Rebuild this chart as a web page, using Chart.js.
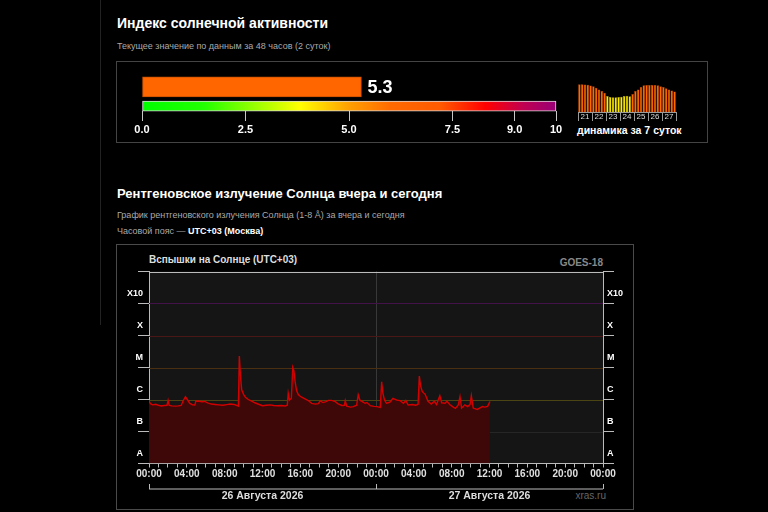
<!DOCTYPE html>
<html><head><meta charset="utf-8">
<script src="https://cdn.jsdelivr.net/npm/chart.js@4.4.1/dist/chart.umd.min.js"></script>
<style>
html,body{margin:0;padding:0;background:#000;width:768px;height:512px;overflow:hidden;font-family:'Liberation Sans',Arial,sans-serif;}
.a{position:absolute;white-space:nowrap;line-height:1;}
canvas{position:absolute;}
</style></head><body>
<div style="position:absolute;left:100px;top:0;width:1px;height:325px;background:#222"></div>
<div class="a" style="left:117px;top:16px;font-size:14px;font-weight:bold;color:#fff">Индекс солнечной активности</div>
<div class="a" style="left:117px;top:41.5px;font-size:9px;color:#aaa">Текущее значение по данным за 48 часов (2 суток)</div>
<div style="position:absolute;left:116px;top:61px;width:592px;height:82px;border:1px solid #444;box-sizing:border-box"></div>
<div class="a" style="left:577px;top:125px;font-size:10.5px;font-weight:bold;color:#fff">динамика за 7 суток</div>

<div class="a" style="left:117px;top:186.5px;font-size:13px;font-weight:bold;color:#fff">Рентгеновское излучение Солнца вчера и сегодня</div>
<div class="a" style="left:117px;top:210.5px;font-size:9px;color:#aaa">График рентгеновского излучения Солнца (1-8 Å) за вчера и сегодня</div>
<div class="a" style="left:117px;top:226.5px;font-size:9px;color:#aaa">Часовой пояс — <b style="color:#fff">UTC+03 (Москва)</b></div>
<div style="position:absolute;left:116px;top:244px;width:518px;height:266px;border:1px solid #4a4a4a;box-sizing:border-box"></div>
<div class="a" style="left:149px;top:254.5px;font-size:10px;font-weight:bold;color:#ddd">Вспышки на Солнце (UTC+03)</div>
<div class="a" style="right:165px;top:257.5px;font-size:10px;font-weight:bold;color:#888">GOES-18</div>
<div class="a" style="right:162px;top:491px;font-size:10px;color:#666">xras.ru</div>

<canvas id="c1" width="470" height="78" style="left:120px;top:62px;width:470px;height:78px"></canvas>
<canvas id="c2" width="110" height="46" style="left:572px;top:78px;width:110px;height:46px"></canvas>
<canvas id="c3" width="530" height="269" style="left:110px;top:243px;width:530px;height:269px"></canvas>
<script>
// ---- data ----
const indexValue = 5.3;
const scaleMin = 0;
const scaleMax = 10;
const scaleTicks = [0, 2.5, 5, 7.5, 9, 10];
const weekDays = ['21','22','23','24','25','26','27'];
const weekIndex = [
  6.8, 6.8, 6.75, 6.7, 6.55,
  6.45, 6.2, 5.9, 5.6, 5.3,
  4.75, 4.6, 4.55, 4.55, 4.6,
  4.65, 4.75, 4.8, 4.7, 5.1,
  5.6, 5.9, 6.3, 6.6, 6.65,
  6.65, 6.65, 6.65, 6.6, 6.45,
  6.3, 6.1, 5.9, 5.7, 5.55
];
const hours = [
  0.00,0.15,0.40,0.70,1.00,1.30,1.60,1.90,2.02,2.12,2.40,2.80,3.10,3.40,3.60,3.85,4.05,4.30,4.60,4.85,
  4.95,5.30,5.60,5.90,6.20,6.60,7.00,7.40,7.80,8.20,8.60,9.00,9.30,9.45,9.55,9.68,9.80,10.00,10.20,10.50,
  10.80,11.20,11.60,12.00,12.40,12.80,13.20,13.60,14.00,14.40,14.62,14.72,14.85,15.05,15.20,15.32,15.45,15.60,15.80,16.10,
  16.50,16.90,17.20,17.60,17.90,18.10,18.40,18.70,18.95,19.30,19.70,20.00,20.40,20.65,20.75,20.90,21.30,21.60,21.95,22.12,
  22.30,22.55,22.85,23.05,23.40,23.80,24.10,24.45,24.60,24.72,24.90,25.10,25.45,25.80,26.20,26.55,26.90,27.15,27.40,27.85,
  28.20,28.45,28.58,28.72,28.90,29.20,29.50,29.85,30.15,30.40,30.75,30.95,31.30,31.50,31.80,32.10,32.40,32.70,32.88,33.05,
  33.40,33.70,33.95,34.08,34.28,34.70,35.00,35.25,35.50,35.80,36.05
];
const flux = [
  9.0e-7,7.4e-7,6.8e-7,7.1e-7,6.6e-7,6.3e-7,6.5e-7,6.6e-7,9.3e-7,6.6e-7,6.3e-7,6.2e-7,6.3e-7,6.5e-7,9.0e-7,1.22e-6,1.0e-6,7.7e-7,6.8e-7,6.7e-7,
  9.0e-7,8.8e-7,8.5e-7,8.7e-7,7.8e-7,7.2e-7,7.0e-7,6.8e-7,6.6e-7,6.9e-7,7.2e-7,7.0e-7,6.5e-7,6.2e-7,2.3e-5,5.0e-6,2.0e-6,1.45e-6,1.17e-6,1.0e-6,
  9.0e-7,7.9e-7,7.1e-7,6.4e-7,6.6e-7,6.8e-7,6.5e-7,6.4e-7,6.5e-7,6.3e-7,6.6e-7,1.56e-6,9.6e-7,1.1e-6,1.01e-5,8.0e-6,3.6e-6,1.9e-6,1.4e-6,1.2e-6,
  1.05e-6,9.0e-7,7.6e-7,7.2e-7,7.4e-7,9.0e-7,8.0e-7,8.6e-7,9.4e-7,9.4e-7,8.6e-7,7.3e-7,6.5e-7,6.6e-7,9.2e-7,6.2e-7,5.8e-7,6.0e-7,6.6e-7,1.4e-6,
  9.5e-7,8.6e-7,7.6e-7,8.0e-7,6.4e-7,6.1e-7,6.0e-7,5.7e-7,3.6e-6,1.6e-6,9.6e-7,7.7e-7,8.2e-7,1.09e-6,9.6e-7,9.2e-7,7.6e-7,9.3e-7,6.7e-7,7.0e-7,
  6.6e-7,7.1e-7,5.4e-6,2.6e-6,1.75e-6,1.45e-6,8.8e-7,7.2e-7,8.8e-7,7.0e-7,1.3e-6,7.9e-7,7.6e-7,8.8e-7,7.0e-7,6.0e-7,5.3e-7,6.8e-7,1.22e-6,5.4e-7,
  6.8e-7,6.0e-7,7.0e-7,1.3e-6,5.4e-7,4.9e-7,5.5e-7,6.0e-7,5.8e-7,6.1e-7,8.7e-7
];
const classLabels = ['A','B','C','M','X','X10'];
const classBoundaries = [1e-8, 1e-7, 1e-6, 1e-5, 1e-4, 1e-3, 1e-2];
const classLabelValues = [2e-8, 2e-7, 2e-6, 2e-5, 2e-4, 2e-3];
const dayLabels = ['26 Августа 2026', '27 Августа 2026'];
const hourLabelEvery = 4;

// ---- styles ----
const FONT = "'Liberation Sans', Arial, sans-serif";
Chart.defaults.font.family = FONT;
Chart.defaults.animation = false;
const gradientStops = [[0,'#00ff00'],[0.15,'#22ff00'],[0.38,'#ffff00'],[0.5,'#ffa000'],[0.6,'#ff6a00'],[0.72,'#ff5a00'],[0.83,'#ff0000'],[0.92,'#c00050'],[1,'#990077']];
const boundaryLineColors = [null, '#262626', '#4a4512', '#4a3010', '#4a1616', '#421248', '#bbbbbb'];

function scaleGradient(ctx){
  const chart = ctx.chart;
  if (!chart.chartArea) return '#ff6600';
  const xs = chart.scales.x;
  const g = chart.ctx.createLinearGradient(xs.getPixelForValue(scaleMin),0,xs.getPixelForValue(scaleMax),0);
  gradientStops.forEach(([o,c])=>g.addColorStop(o,c));
  return g;
}
const valueLabelPlugin = {
  id:'valueLabel',
  afterDatasetsDraw(chart){
    const el = chart.getDatasetMeta(0).data[0];
    const c = chart.ctx;
    c.save();
    c.fillStyle = '#fff';
    c.font = "bold 18px " + FONT;
    c.textBaseline = 'middle';
    c.textAlign = 'left';
    c.fillText(indexValue.toFixed(1), el.x + 6, el.y + 1);
    c.restore();
  }
};

new Chart(document.getElementById('c1'), {
  type:'bar',
  data:{ labels:['current','','scale'], datasets:[
    {data:[indexValue,null,null], backgroundColor:'#ff6600', borderColor:'#c84e00', borderWidth:1, borderSkipped:false, barThickness:20, grouped:false, clip:false},
    {data:[null,null,[scaleMin,scaleMax]], backgroundColor:scaleGradient, borderColor:'#d8d8d8', borderWidth:1, borderSkipped:false, barThickness:10, grouped:false, clip:false}
  ]},
  options:{
    indexAxis:'y', responsive:false, animation:false, events:[],
    layout:{padding:{left:22,right:34,top:20,bottom:0}},
    plugins:{legend:{display:false}, tooltip:{enabled:false}},
    scales:{
      y:{display:false, offset:true},
      x:{min:scaleMin, max:scaleMax,
        afterBuildTicks:(ax)=>{ ax.ticks = scaleTicks.map(v=>({value:v})); },
        afterFit:(ax)=>{ ax.height = 29; },
        ticks:{callback:(v)=> v===10 ? '10' : Number(v).toFixed(1), color:'#fff', font:{size:11, weight:'bold'}, padding:2, maxRotation:0, autoSkip:false},
        grid:{drawOnChartArea:false, drawTicks:true, tickLength:10, color:'#c8c8c8'},
        border:{display:false}
      }
    }
  },
  plugins:[valueLabelPlugin]
});

const weekLabels = weekIndex.map((v,i)=> weekDays[Math.floor(i/5)]);
new Chart(document.getElementById('c2'), {
  type:'bar',
  data:{ labels:weekLabels, datasets:[{
    data:weekIndex,
    backgroundColor:weekIndex.map(v=> v<5 ? '#ffee00' : '#ff6a00'),
    borderColor:weekIndex.map(v=> v<5 ? '#b0a000' : '#b84400'),
    borderWidth:0.5, barPercentage:0.9, categoryPercentage:1
  }]},
  options:{
    responsive:false, animation:false, events:[],
    layout:{padding:{left:6,right:6,top:5,bottom:0}},
    plugins:{legend:{display:false}, tooltip:{enabled:false}},
    scales:{
      y:{display:false, min:2, max:7},
      x:{
        afterFit:(ax)=>{ ax.height = 12; },
        ticks:{autoSkip:false, maxRotation:0, padding:-9, color:'#ddd', font:{size:8},
          callback:function(v,i){ return i%5===2 ? this.getLabelForValue(v) : ''; }},
        grid:{offset:true, drawOnChartArea:false, tickLength:9, color:(c)=> (c.index===undefined || c.index%5===0) ? '#999' : 'transparent'},
        border:{display:true, color:'#999'}
      }
    }
  }
});

// main x-ray chart
const yTickValues = classBoundaries.concat(classLabelValues).sort((a,b)=>a-b);
function isDecade(v){ const l=Math.log10(v); return Math.abs(l-Math.round(l))<0.01; }
function classLabel(v){
  if (isDecade(v)) return '';
  return classLabels[Math.floor(Math.log10(v))+8] || '';
}
function yAxis(pos){
  return {
    type:'logarithmic', position:pos, min:classBoundaries[0], max:classBoundaries[classBoundaries.length-1],
    afterBuildTicks:(ax)=>{ ax.ticks = yTickValues.map(v=>({value:v})); },
    afterFit:(ax)=>{ ax.width = pos==='left' ? 39 : 37; },
    ticks:{callback:classLabel, color:'#fff', font:{size:9, weight:'bold'}, padding: pos==='left' ? -5 : -7, autoSkip:false},
    grid:{drawOnChartArea:false, tickLength:11,
      tickColor:(c)=> isDecade(c.tick.value) ? '#bbb' : 'transparent'},
    border:{display:true, color:'#bbb'}
  };
}
const hourTicks = [];
for (let h=0; h<=48; h++) hourTicks.push(h);

const plotBg = { id:'plotBg', beforeDraw(chart){ const {ctx, chartArea:a} = chart; ctx.save(); ctx.fillStyle='#151515'; ctx.fillRect(a.left,a.top,a.width,a.height); ctx.restore(); } };
const classLines = {
  id:'classLines',
  beforeDatasetsDraw(chart){
    const {ctx, chartArea:a} = chart; const ys = chart.scales.y;
    ctx.save(); ctx.lineWidth = 1;
    classBoundaries.forEach((b,i)=>{
      const col = boundaryLineColors[i]; if (!col) return;
      const y = Math.round(ys.getPixelForValue(b)) + 0.5;
      ctx.strokeStyle = col; ctx.beginPath(); ctx.moveTo(a.left, y); ctx.lineTo(a.right, y); ctx.stroke();
    });
    ctx.restore();
  }
};
const dayBrackets = {
  id:'dayBrackets',
  afterDraw(chart){
    const {ctx, chartArea:a} = chart; const xs = chart.scales.x;
    const p0 = xs.getPixelForValue(0), p1 = xs.getPixelForValue(24), p2 = xs.getPixelForValue(48);
    const yl = a.bottom + 25.5;
    ctx.save();
    ctx.strokeStyle = '#bbb'; ctx.lineWidth = 1;
    ctx.beginPath();
    [p0,p1,p2].forEach(p=>{ ctx.moveTo(Math.round(p)+0.5, yl-5); ctx.lineTo(Math.round(p)+0.5, yl); });
    ctx.moveTo(p0, yl); ctx.lineTo(p2, yl);
    ctx.stroke();
    ctx.fillStyle = '#ddd'; ctx.font = 'bold 10.5px ' + FONT; ctx.textAlign='center'; ctx.textBaseline='middle';
    ctx.fillText(dayLabels[0], xs.getPixelForValue(12), a.bottom + 33);
    ctx.fillText(dayLabels[1], xs.getPixelForValue(36), a.bottom + 33);
    ctx.restore();
  }
};

new Chart(document.getElementById('c3'), {
  type:'line',
  data:{ datasets:[{
    data: hours.map((h,i)=>({x:h, y:flux[i]})),
    borderColor:'#d40000', borderWidth:1.4, pointRadius:0, tension:0,
    fill:'start', backgroundColor:'rgb(62,8,8)'
  }]},
  options:{
    responsive:false, animation:false, events:[],
    layout:{padding:{left:0,right:0,top:28.5,bottom:0}},
    plugins:{legend:{display:false}, tooltip:{enabled:false}},
    scales:{
      x:{type:'linear', min:0, max:48,
        afterBuildTicks:(ax)=>{ ax.ticks = hourTicks.map(v=>({value:v})); },
        afterFit:(ax)=>{ ax.height = 48.5; },
        ticks:{autoSkip:false, maxRotation:0, padding:1, color:'#e0e0e0', font:{size:10, weight:'bold'},
          callback:(v)=> v%hourLabelEvery===0 ? String(v%24).padStart(2,'0')+':00' : ''},
        grid:{drawOnChartArea:true, tickLength:4, color:(c)=> (c.tick && c.tick.value===24) ? '#383838' : 'transparent', tickColor:'#bbb'},
        border:{display:true, color:'#bbb'}
      },
      y: yAxis('left'),
      y2: yAxis('right')
    }
  },
  plugins:[plotBg, classLines, dayBrackets]
});
</script>
</body></html>
